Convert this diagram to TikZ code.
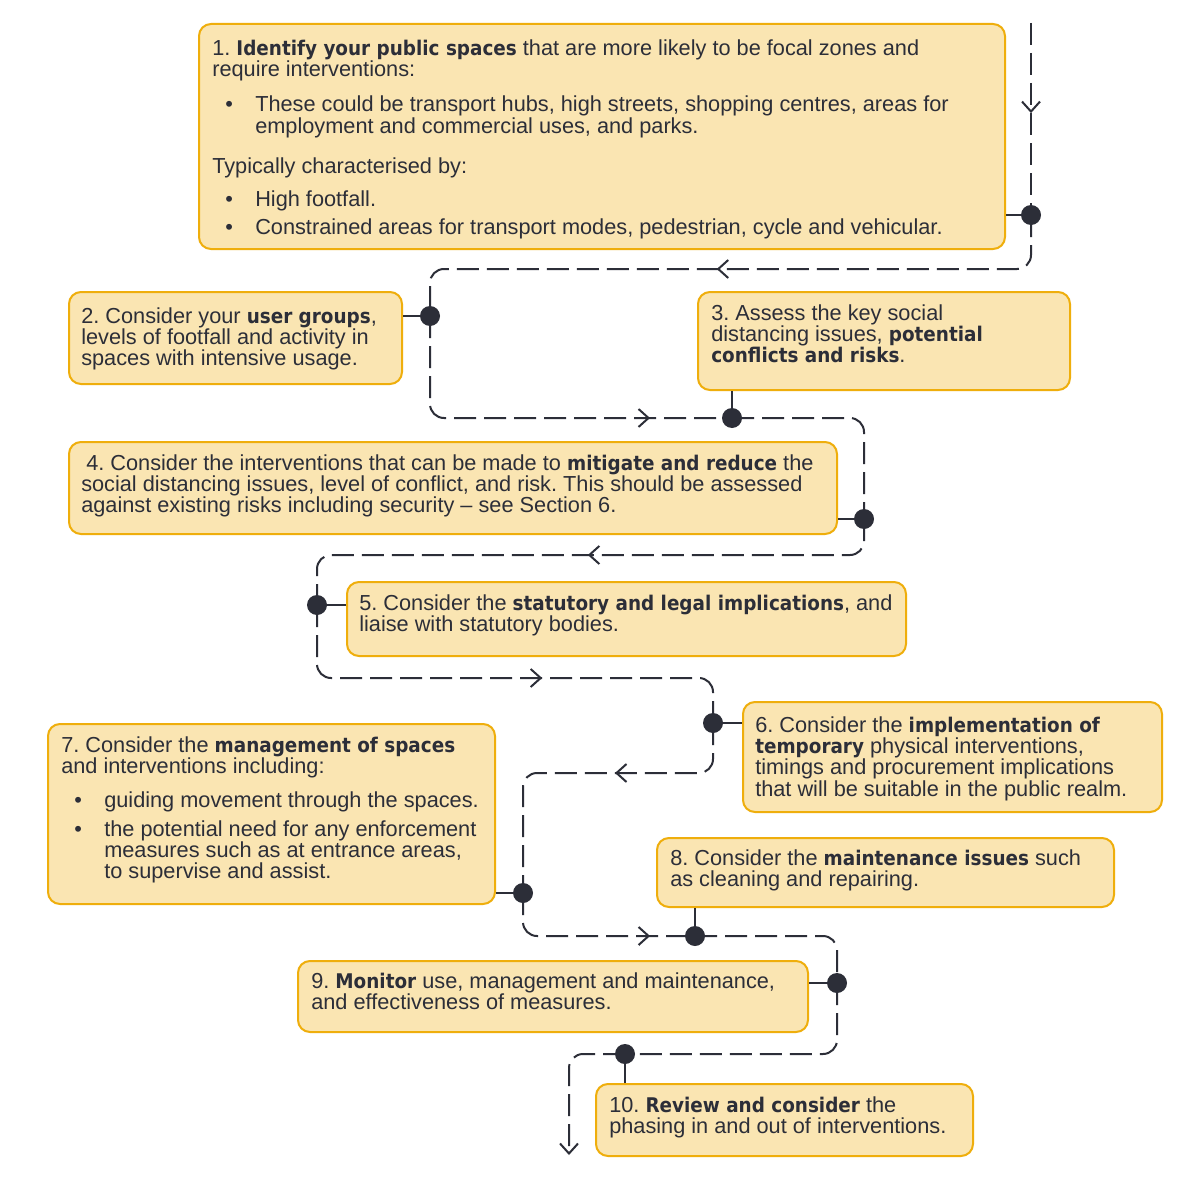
\documentclass[tikz,border=0pt]{standalone}
\usepackage{fontspec}
\setmainfont{Liberation Sans}
\newfontfamily\boldfam{DejaVu Sans}[Scale=0.93,FakeStretch=0.91]
\usetikzlibrary{arrows.meta,decorations.markings}
\definecolor{boxfill}{HTML}{FAE5B2}
\definecolor{boxline}{HTML}{EFAE0C}
\definecolor{ink}{HTML}{2C2E38}
\newcommand\bp[1]{{\boldfam\bfseries #1}}
\newcommand\fl{\rule{0pt}{12.75pt}}
\newcommand\itm{\hspace*{9.75pt}\makebox[22.5pt][l]{•}}
\newcommand\cnt{\hspace*{32.25pt}}
\begin{document}
\begin{tikzpicture}[x=0.75pt,y=-0.75pt,
 box/.style={draw=boxline, fill=boxfill, line width=1.5pt, rounded corners=9pt, anchor=north west, inner sep=0pt},
 txt/.style={anchor=north west, inner sep=0pt, align=left, text=ink, font=\fontsize{16.3pt}{16pt}\selectfont\frenchspacing},
 flow/.style={draw=ink, line width=1.5pt, dash pattern=on 16.5pt off 6pt, rounded corners=10.5pt},
 midtip/.style={postaction={decorate}, decoration={markings, mark=at position #1 with {\arrow{Straight Barb[length=7.5pt,width=13.5pt]}}}},
 stub/.style={draw=ink, line width=1.5pt},
 dotn/.style={circle, fill=ink, minimum size=15pt, inner sep=0pt}]
\useasboundingbox[fill=white] (0,0) rectangle (1200,1188);

% boxes
\node[box, minimum width=604.5pt, minimum height=168.75pt] (b1) at (198,23) {};
\node[box, minimum width=249.75pt, minimum height=69pt] (b2) at (68,291) {};
\node[box, minimum width=279pt, minimum height=73.5pt] (b3) at (697,291) {};
\node[box, minimum width=576pt, minimum height=69pt] (b4) at (68,441) {};
\node[box, minimum width=419.25pt, minimum height=55.5pt] (b5) at (346,581) {};
\node[box, minimum width=314.25pt, minimum height=82.5pt] (b6) at (742,701) {};
\node[box, minimum width=335.25pt, minimum height=135pt] (b7) at (47,723) {};
\node[box, minimum width=342.75pt, minimum height=51.75pt] (b8) at (656,837) {};
\node[box, minimum width=382.5pt, minimum height=53.25pt] (b9) at (297,960) {};
\node[box, minimum width=282.75pt, minimum height=54pt] (b10) at (595,1083) {};

% texts
\node[txt] (t1) at ([shift={(14,15)}]b1.north west) {\fl 1. \bp{Identify your public spaces} that are more likely to be focal zones and\\
require interventions:\\[10.5pt]
\itm These could be transport hubs, high streets, shopping centres, areas for\\
\cnt employment and commercial uses, and parks.\\[14.25pt]
Typically characterised by:\\[9pt]
\itm High footfall.\\[4.5pt]
\itm Constrained areas for transport modes, pedestrian, cycle and vehicular.};
\node[txt] (t2) at ([shift={(13,15)}]b2.north west) {\fl 2. Consider your \bp{user groups},\\levels of footfall and activity in\\spaces with intensive usage.};
\node[txt] (t3) at ([shift={(14,12)}]b3.north west) {\fl 3. Assess the key social\\distancing issues, \bp{potential}\\\bp{conflicts and risks}.};
\node[txt] (t4) at ([shift={(13,12)}]b4.north west) {\fl\hspace*{3.75pt}4. Consider the interventions that can be made to \bp{mitigate and reduce} the\\social distancing issues, level of conflict, and risk. This should be assessed\\against existing risks including security -- see Section 6.};
\node[txt] (t5) at ([shift={(13,12)}]b5.north west) {\fl 5. Consider the \bp{statutory and legal implications}, and\\liaise with statutory bodies.};
\node[txt] (t6) at ([shift={(13,14)}]b6.north west) {\fl 6. Consider the \bp{implementation of}\\\bp{temporary} physical interventions,\\timings and procurement implications\\that will be suitable in the public realm.};
\node[txt] (t7) at ([shift={(14,12)}]b7.north west) {\fl 7. Consider the \bp{management of spaces}\\
and interventions including:\\[9.75pt]
\itm guiding movement through the spaces.\\[5.25pt]
\itm the potential need for any enforcement\\
\cnt measures such as at entrance areas,\\
\cnt to supervise and assist.};
\node[txt] (t8) at ([shift={(14,11)}]b8.north west) {\fl 8. Consider the \bp{maintenance issues} such\\as cleaning and repairing.};
\node[txt] (t9) at ([shift={(14,11)}]b9.north west) {\fl 9. \bp{Monitor} use, management and maintenance,\\and effectiveness of measures.};
\node[txt] (t10) at ([shift={(14,12)}]b10.north west) {\fl 10. \bp{Review and consider} the\\phasing in and out of interventions.};

% junction dots (positions)
\coordinate (d1) at (1031,215);
\coordinate (d2) at (430,316);
\coordinate (d3) at (732,418);
\coordinate (d4) at (864,519);
\coordinate (d5) at (317,605);
\coordinate (d6) at (713,723);
\coordinate (d7) at (523,893);
\coordinate (d8) at (695,936);
\coordinate (d9) at (837,983);
\coordinate (d10) at (625,1054);
\coordinate (s) at (1031,23);
\coordinate (r1) at (430,269);
\coordinate (r4) at (317,555);
\coordinate (r5) at (713,678);
\coordinate (r6) at (523,773);
\coordinate (e) at (569,1155);

% flow line
\draw[flow, midtip=0.469] (s) -- (d1);
\draw[flow, midtip=0.525] (d1) |- (r1) -- (d2);
\draw[flow, midtip=0.794] (d2) |- (d3);
\draw[flow] (d3) -| (d4);
\draw[flow, midtip=0.493] (d4) |- (r4) -- (d5);
\draw[flow, midtip=0.582] (d5) |- (r5) -- (d6);
\draw[flow, midtip=0.408] (d6) |- (r6) -- (d7);
\draw[flow, midtip=0.785] (d7) |- (d8);
\draw[flow] (d8) -| (d9);
\draw[flow] (d9) |- (d10);
\draw[flow, -{Straight Barb[length=7.5pt,width=13.5pt]}] (d10) -| (e);

% stubs
\draw[stub] (b1.east |- d1) -- (d1);
\draw[stub] (b2.east |- d2) -- (d2);
\draw[stub] (d3 |- b3.south) -- (d3);
\draw[stub] (b4.east |- d4) -- (d4);
\draw[stub] (b5.west |- d5) -- (d5);
\draw[stub] (b6.west |- d6) -- (d6);
\draw[stub] (b7.east |- d7) -- (d7);
\draw[stub] (d8 |- b8.south) -- (d8);
\draw[stub] (b9.east |- d9) -- (d9);
\draw[stub] (d10 |- b10.north) -- (d10);

% dots
\foreach \k in {1,...,10} \node[dotn] (dot\k) at (d\k) {};
\end{tikzpicture}
\end{document}
